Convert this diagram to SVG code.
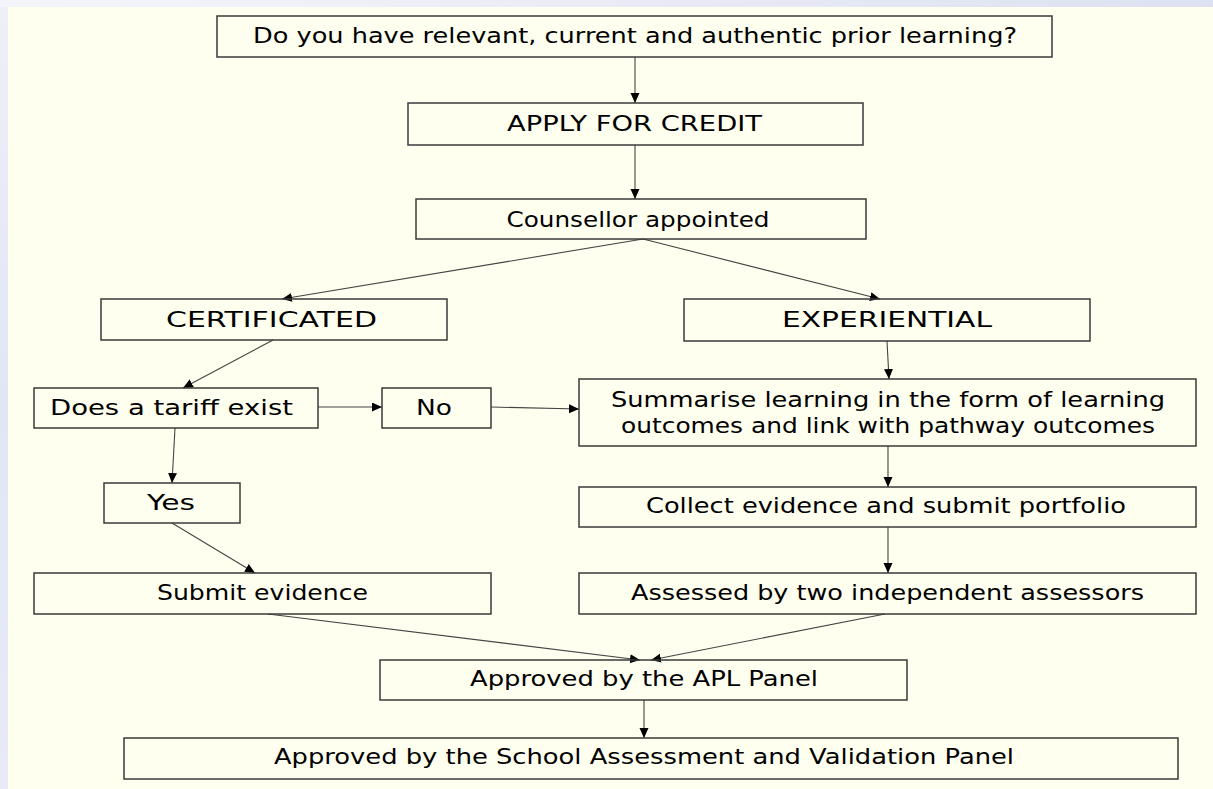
<svg xmlns="http://www.w3.org/2000/svg" width="1213" height="789" viewBox="0 0 1213 789">
<style>
.box{fill:none;stroke:#3a3a3a;stroke-width:1.5}
.t{font-family:"Comic Sans MS","DejaVu Sans","Liberation Sans",sans-serif;font-size:21px;fill:#000;text-anchor:middle}
.c{fill:none;stroke:#444;stroke-width:1.1}
</style>
<defs>
<linearGradient id="bgTop" x1="0" y1="0" x2="1" y2="0">
<stop offset="0" stop-color="#f4f5fa"/><stop offset="0.4" stop-color="#eceef7"/><stop offset="1" stop-color="#dde1f1"/>
</linearGradient>
<linearGradient id="bgLeft" x1="0" y1="0" x2="0" y2="1">
<stop offset="0" stop-color="#eef0f8"/><stop offset="0.5" stop-color="#e2e6f4"/><stop offset="1" stop-color="#e8ebf6"/>
</linearGradient>
<marker id="ah" markerUnits="userSpaceOnUse" markerWidth="11" markerHeight="10" refX="10" refY="4.5" orient="auto">
<path d="M0,0 L10,4.5 L0,9 Z" fill="#000"/>
</marker>
</defs>
<rect x="0" y="0" width="1213" height="789" fill="url(#bgTop)"/>
<rect x="0" y="7" width="8" height="782" fill="url(#bgLeft)"/>
<rect x="8" y="7" width="1205" height="782" fill="#fffff0"/>

<g id="connectors">
<line class="c" x1="635" y1="57" x2="635" y2="103" marker-end="url(#ah)"/>
<line class="c" x1="635" y1="145" x2="635" y2="199" marker-end="url(#ah)"/>
<line class="c" x1="643" y1="239" x2="282" y2="299" marker-end="url(#ah)"/>
<line class="c" x1="643" y1="239" x2="880" y2="299" marker-end="url(#ah)"/>
<line class="c" x1="273" y1="340" x2="183" y2="388" marker-end="url(#ah)"/>
<line class="c" x1="887" y1="341" x2="889" y2="379" marker-end="url(#ah)"/>
<line class="c" x1="318" y1="407" x2="382" y2="407" marker-end="url(#ah)"/>
<line class="c" x1="491" y1="407" x2="579" y2="409" marker-end="url(#ah)"/>
<line class="c" x1="175" y1="428" x2="172" y2="483" marker-end="url(#ah)"/>
<line class="c" x1="172" y1="523" x2="255" y2="573" marker-end="url(#ah)"/>
<line class="c" x1="888" y1="446" x2="888" y2="487" marker-end="url(#ah)"/>
<line class="c" x1="888" y1="527" x2="888" y2="573" marker-end="url(#ah)"/>
<line class="c" x1="268" y1="614" x2="640" y2="660" marker-end="url(#ah)"/>
<line class="c" x1="885" y1="614" x2="651" y2="660" marker-end="url(#ah)"/>
<line class="c" x1="644" y1="700" x2="644" y2="738" marker-end="url(#ah)"/>
</g>

<g id="n-prior"><rect class="box" x="217" y="16" width="835" height="41"/><text class="t" x="635" y="43" textLength="764" lengthAdjust="spacingAndGlyphs">Do you have relevant, current and authentic prior learning?</text></g>
<g id="n-apply"><rect class="box" x="408" y="103" width="455" height="42"/><text class="t" x="634.5" y="131" textLength="255" lengthAdjust="spacingAndGlyphs">APPLY FOR CREDIT</text></g>
<g id="n-counsellor"><rect class="box" x="416" y="199" width="450" height="40"/><text class="t" x="638" y="227" textLength="263" lengthAdjust="spacingAndGlyphs">Counsellor appointed</text></g>
<g id="n-cert"><rect class="box" x="101" y="299" width="346" height="41"/><text class="t" x="271.5" y="327" textLength="211" lengthAdjust="spacingAndGlyphs">CERTIFICATED</text></g>
<g id="n-exp"><rect class="box" x="684" y="299" width="406" height="42"/><text class="t" x="887" y="327" textLength="210" lengthAdjust="spacingAndGlyphs">EXPERIENTIAL</text></g>
<g id="n-tariff"><rect class="box" x="34" y="388" width="284" height="40"/><text class="t" x="171.5" y="415" textLength="243" lengthAdjust="spacingAndGlyphs">Does a tariff exist</text></g>
<g id="n-no"><rect class="box" x="382" y="388" width="109" height="40"/><text class="t" x="434" y="415" textLength="36" lengthAdjust="spacingAndGlyphs">No</text></g>
<g id="n-yes"><rect class="box" x="104" y="483" width="136" height="40"/><text class="t" x="171" y="510" textLength="48" lengthAdjust="spacingAndGlyphs">Yes</text></g>
<g id="n-submit"><rect class="box" x="34" y="573" width="457" height="41"/><text class="t" x="262.5" y="600" textLength="211" lengthAdjust="spacingAndGlyphs">Submit evidence</text></g>
<g id="n-summarise"><rect class="box" x="579" y="379" width="617" height="67"/><text class="t" x="888" y="407" textLength="554" lengthAdjust="spacingAndGlyphs">Summarise learning in the form of learning</text><text class="t" x="888" y="433" textLength="534" lengthAdjust="spacingAndGlyphs">outcomes and link with pathway outcomes</text></g>
<g id="n-collect"><rect class="box" x="579" y="487" width="617" height="40"/><text class="t" x="886" y="513" textLength="480" lengthAdjust="spacingAndGlyphs">Collect evidence and submit portfolio</text></g>
<g id="n-assessed"><rect class="box" x="579" y="573" width="617" height="41"/><text class="t" x="887.5" y="600" textLength="513" lengthAdjust="spacingAndGlyphs">Assessed by two independent assessors</text></g>
<g id="n-apl"><rect class="box" x="380" y="660" width="527" height="40"/><text class="t" x="644" y="686" textLength="348" lengthAdjust="spacingAndGlyphs">Approved by the APL Panel</text></g>
<g id="n-school"><rect class="box" x="124" y="738" width="1054" height="41"/><text class="t" x="644" y="764" textLength="740" lengthAdjust="spacingAndGlyphs">Approved by the School Assessment and  Validation Panel</text></g>
</svg>
